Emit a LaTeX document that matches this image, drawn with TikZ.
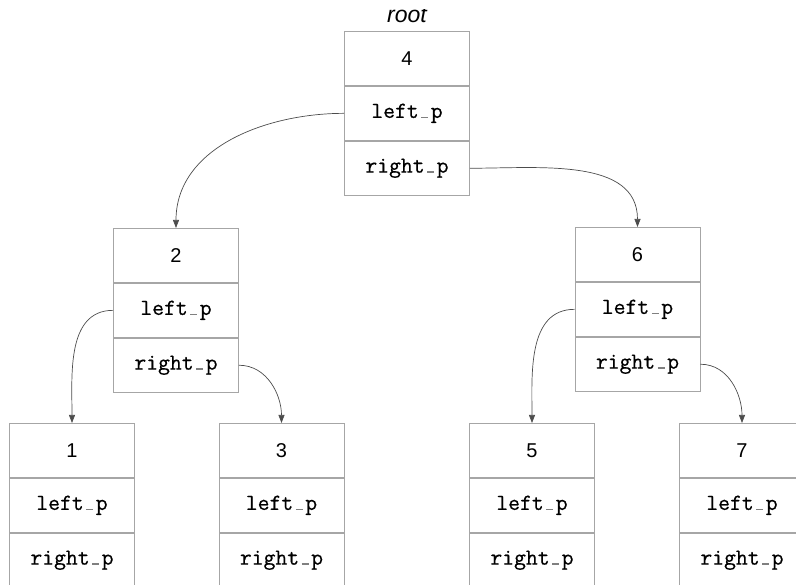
\documentclass[tikz,border=0pt]{standalone}
\usepackage{fontspec}
\setmainfont{Liberation Sans}
\newfontfamily\ptrfont{Latin Modern Mono}[FakeBold=0.5]
\usetikzlibrary{arrows.meta}
\newcommand{\usc}{\makebox[0.525em][c]{\textcolor{gray}{\rule{0.3em}{0.05em}}}}
\newcommand{\treebox}[4]{%
  \node[cell,numtxt] (#1v) at (#2,585-#3) {#4};
  \node[cell,ptrtxt] (#1l) at (#1v.south) {left\usc p};
  \node[cell,ptrtxt] (#1r) at (#1l.south) {right\usc p};
}
\begin{document}
\begin{tikzpicture}[x=1pt,y=1pt,
  cell/.style={draw=gray!70, line width=0.9pt, minimum width=125pt, minimum height=54pt, inner sep=0pt, anchor=north},
  numtxt/.style={font=\fontsize{20}{24}\selectfont},
  ptrtxt/.style={font=\ptrfont\fontsize{23}{27}\selectfont},
  lbl/.style={font=\itshape\fontsize{23}{27}\selectfont, anchor=base, inner sep=0pt},
  link/.style={draw=black!70, line width=0.7pt, -{Triangle[length=8pt,width=6pt]}}]
\useasboundingbox (0,0) rectangle (796,585);
\clip (0,0) rectangle (796,575);
\node[lbl] (rootlbl) at (407,562) {root};
\treebox{n4}{407}{31}{4}
\treebox{n2}{176}{228}{2}
\treebox{n6}{637.5}{227}{6}
\treebox{n1}{72}{423}{1}
\treebox{n3}{281.5}{423}{3}
\treebox{n5}{532}{423}{5}
\treebox{n7}{742}{423}{7}
\draw[link] (n4l.west) to[out=180,in=90] (n2v.north);
\draw[link] (n4r.east) to[out=0,in=90] (n6v.north);
\draw[link] (n2l.west) to[out=180,in=90] (n1v.north);
\draw[link] (n2r.east) to[out=0,in=90] (n3v.north);
\draw[link] (n6l.west) to[out=180,in=90] (n5v.north);
\draw[link] (n6r.east) to[out=0,in=90] (n7v.north);
\end{tikzpicture}
\end{document}
